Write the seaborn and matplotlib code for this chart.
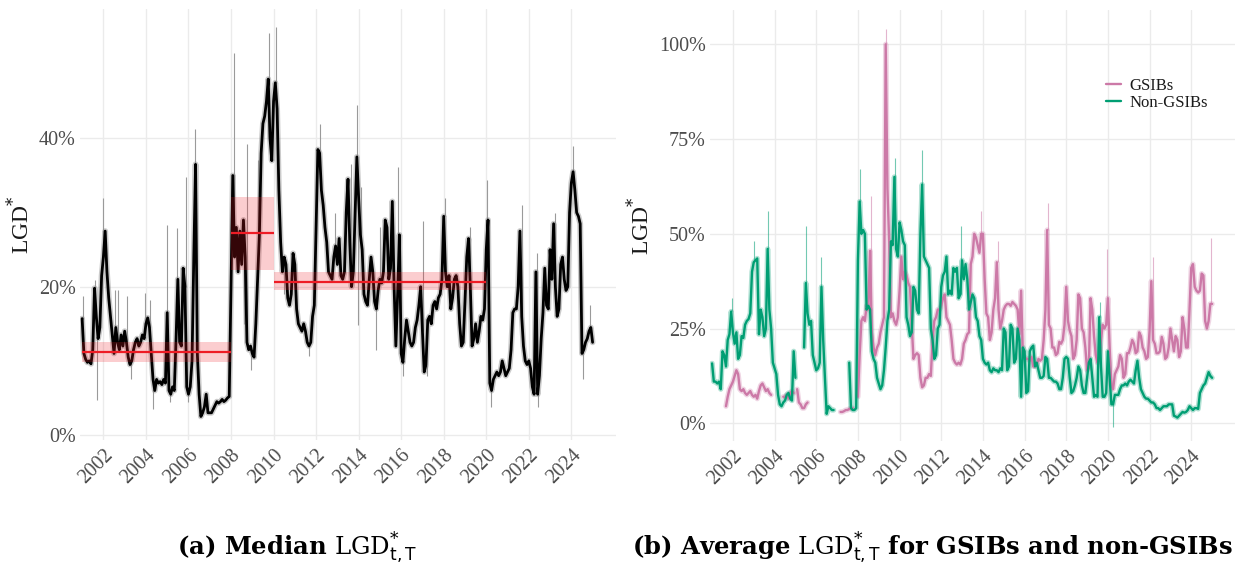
import numpy as np
import pandas as pd
import matplotlib
matplotlib.use("Agg")
import matplotlib.pyplot as plt
import seaborn as sns

# ---------------------------------------------------------------------------
# Monthly series, starting January 2001 (values in percent)
# ---------------------------------------------------------------------------
median_lgd = [
    15.7, 11.0, 10.2, 9.8, 10.0, 9.6, 11.5, 19.8, 16.0, 13.0, 14.5, 21.5,   # 2001
    24.0, 27.5, 22.0, 18.5, 16.0, 13.5, 11.0, 14.5, 12.5, 11.5, 13.5, 12.0,  # 2002
    14.0, 12.5, 10.5, 9.5, 10.0, 11.5, 12.5, 13.0, 12.0, 12.5, 13.5, 13.0,   # 2003
    15.0, 15.8, 14.5, 11.0, 7.5, 6.0, 7.5, 7.0, 7.2, 6.8, 7.5, 7.0,          # 2004
    16.5, 6.0, 5.5, 6.5, 6.0, 13.0, 21.0, 12.5, 12.0, 22.5, 20.0, 6.5,       # 2005
    5.5, 6.5, 10.0, 24.0, 36.5, 11.0, 5.5, 2.5, 3.0, 3.8, 5.5, 3.0,          # 2006
    3.0, 3.0, 3.5, 4.0, 4.5, 4.3, 4.5, 4.8, 4.5, 4.7, 5.0, 5.2,              # 2007
    20.0, 35.0, 24.0, 28.0, 22.0, 27.5, 23.0, 29.0, 24.0, 12.5, 11.5, 12.0,  # 2008
    11.0, 10.5, 15.0, 21.0, 27.0, 38.0, 42.0, 43.0, 45.0, 48.0, 40.0, 37.0,  # 2009
    45.0, 47.5, 44.0, 33.0, 26.0, 22.0, 24.0, 23.0, 18.5, 17.5, 19.0, 24.5,  # 2010
    23.0, 17.0, 15.0, 14.5, 14.0, 15.0, 14.0, 12.5, 12.0, 12.5, 16.0, 17.5,  # 2011
    28.0, 38.5, 38.0, 33.0, 31.0, 28.0, 26.0, 22.0, 21.5, 21.0, 24.0, 25.5,  # 2012
    23.0, 26.5, 21.5, 21.0, 22.0, 30.0, 34.5, 26.0, 20.0, 22.0, 30.0, 37.5,  # 2013
    32.0, 27.0, 25.0, 19.0, 18.0, 17.5, 21.0, 24.0, 22.0, 18.0, 17.0, 19.5,  # 2014
    21.0, 20.5, 22.0, 29.0, 28.0, 21.0, 22.5, 31.5, 20.0, 12.0, 19.0, 27.0,  # 2015
    11.0, 9.8, 13.0, 15.5, 14.0, 12.5, 12.0, 12.5, 14.5, 15.5, 17.5, 20.0,   # 2016
    14.0, 8.5, 9.5, 15.5, 16.0, 15.0, 17.5, 18.0, 17.0, 18.5, 19.0, 21.0,   # 2017
    29.5, 22.0, 20.0, 21.5, 17.0, 18.5, 21.0, 21.5, 20.0, 15.0, 12.0, 12.5,  # 2018
    18.0, 24.0, 26.5, 20.0, 12.0, 13.0, 15.0, 12.5, 14.0, 16.0, 15.5, 17.0,  # 2019
    25.0, 29.0, 7.0, 6.0, 7.5, 8.0, 8.5, 8.0, 8.5, 10.0, 9.0, 8.0,           # 2020
    8.5, 9.0, 11.5, 16.5, 17.0, 17.0, 20.0, 27.5, 16.0, 12.0, 10.0, 9.5,     # 2021
    10.0, 9.0, 6.5, 5.5, 22.0, 5.5, 8.0, 13.0, 16.5, 22.5, 17.5, 17.0,      # 2022
    25.0, 21.0, 28.5, 20.0, 16.0, 17.0, 23.0, 24.0, 21.0, 19.5, 20.0, 30.0,  # 2023
    34.0, 35.5, 33.0, 30.0, 29.5, 28.5, 11.0, 11.5, 12.5, 13.0, 14.0, 14.5,  # 2024
    12.5,                                                                    # 2025
]

nan = np.nan
gsib_lgd = [
    nan, nan, nan, nan, nan, nan, nan, nan, 4.5, 7.0, 9.0, 10.0,             # 2001
    11.0, 12.5, 14.0, 13.0, 9.0, 8.5, 9.0, 8.0, 7.5, 8.0, 8.5, 7.5,          # 2002
    7.0, 7.5, 6.5, 8.5, 10.0, 10.5, 9.5, 8.5, 9.0, 8.0, 7.5, nan,            # 2003
    nan, nan, nan, nan, nan, 7.0, 7.0, 7.5, 6.5, 8.0, 8.5, 8.0,              # 2004
    nan, 9.0, 5.5, 5.0, 4.0, 4.0, 5.0, 5.5, nan, nan, nan, nan,              # 2005
    nan, nan, nan, nan, nan, nan, nan, nan, nan, nan, nan, nan,              # 2006
    nan, nan, 3.0, 3.0, 3.2, 3.5, 3.5, 3.8, 4.0, 4.0, nan, nan,              # 2007
    7.0, 18.0, 27.0, 28.0, 27.0, 31.0, 30.0, 45.5, 24.0, 20.0, 18.0, 20.0,   # 2008
    21.0, 24.0, 26.0, 28.0, 100.0, 62.0, 48.0, 28.0, 29.0, 27.0, 26.0, 28.0, # 2009
    35.0, 44.0, 38.0, 40.0, 39.0, 37.0, 36.0, 26.0, 17.0, 18.0, 18.5, 18.0,  # 2010
    12.0, 9.5, 10.0, 12.0, 12.0, 13.0, 12.5, 22.0, 27.0, 28.0, 30.0, 30.0,   # 2011
    31.0, 33.0, 34.0, 28.0, 27.0, 26.0, 22.0, 17.0, 16.0, 15.5, 16.0, 15.5,  # 2012
    17.0, 21.0, 22.0, 23.5, 24.0, 42.0, 44.0, 50.0, 49.0, 47.0, 45.0, 50.0,  # 2013
    50.0, 38.0, 29.0, 28.0, 22.0, 24.0, 30.0, 33.0, 42.5, 30.0, 25.0, 27.0,  # 2014
    30.0, 31.0, 31.5, 31.5, 31.0, 32.0, 31.5, 31.0, 30.0, 23.5, 35.0, 18.0,  # 2015
    17.5, 17.0, 17.0, 16.5, 17.5, 15.0, 15.0, 15.5, 17.0, 16.5, 17.0, 22.0,  # 2016
    30.0, 51.0, 26.0, 25.0, 20.0, 20.0, 18.0, 18.5, 21.5, 21.0, 22.0, 26.0,  # 2017
    36.0, 27.0, 24.5, 23.0, 17.0, 18.0, 22.0, 34.0, 33.0, 25.0, 24.0, 20.0,  # 2018
    14.0, 14.5, 33.0, 30.0, 23.0, 18.0, 16.0, 16.5, 22.0, 26.0, 25.0, 26.0,  # 2019
    33.0, 20.0, 10.0, 9.0, 13.0, 14.0, 15.0, 18.0, 17.0, 12.0, 13.0, 18.5,   # 2020
    18.5, 20.0, 22.0, 21.0, 18.5, 19.0, 24.0, 23.0, 20.0, 19.0, 17.0, 17.5,  # 2021
    24.5, 37.5, 22.0, 21.0, 18.5, 18.5, 19.0, 22.8, 21.0, 17.0, 17.5, 20.0,  # 2022
    25.0, 22.0, 19.0, 23.0, 22.0, 17.5, 19.0, 28.0, 25.0, 20.0, 20.0, 30.0,  # 2023
    41.0, 42.0, 36.0, 35.0, 34.5, 35.0, 39.5, 39.0, 27.0, 25.0, 27.0, 31.5,  # 2024
    31.5,                                                                    # 2025
]

non_gsib_lgd = [
    15.8, 11.0, 11.0, 10.5, 11.0, 9.0, 19.0, 18.0, 15.0, 22.0, 23.5, 29.5,   # 2001
    24.0, 21.0, 24.0, 17.0, 18.0, 23.0, 22.5, 26.0, 27.0, 27.5, 29.0, 40.0,  # 2002
    42.5, 43.0, 43.5, 23.5, 30.0, 28.0, 23.0, 25.0, 46.0, 30.0, 25.0, 16.0,  # 2003
    14.5, 13.0, 7.5, 5.0, 4.5, 5.5, 6.0, 7.5, 8.0, 6.5, 6.0, 19.0,           # 2004
    12.0, nan, nan, nan, nan, 20.0, 37.0, 29.0, 26.0, 27.0, 18.0, 16.0,      # 2005
    14.0, 14.5, 16.0, 36.0, 22.0, 12.0, 2.5, 4.5, 4.0, 3.5, 3.5, nan,        # 2006
    nan, nan, nan, nan, nan, nan, nan, 16.0, 4.0, 3.5, 3.5, 4.0,             # 2007
    43.0, 58.5, 50.0, 51.0, 50.0, 30.0, 31.0, 30.0, 19.0, 17.0, 16.0, 12.0,  # 2008
    10.5, 9.0, 10.0, 14.0, 20.0, 27.0, 30.0, 48.0, 47.0, 65.0, 46.0, 44.0,   # 2009
    53.0, 51.0, 48.0, 47.0, 28.0, 26.0, 23.0, 24.0, 36.0, 35.0, 30.0, 29.0,  # 2010
    50.0, 63.0, 44.0, 43.0, 42.0, 41.0, 25.0, 22.0, 17.0, 18.0, 25.0, 26.0,  # 2011
    36.0, 39.0, 40.0, 44.0, 34.0, 35.0, 34.0, 41.0, 40.0, 41.0, 33.0, 34.0,  # 2012
    43.0, 38.0, 42.0, 38.0, 30.0, 32.0, 34.0, 33.0, 28.0, 27.0, 23.0, 22.0,  # 2013
    17.0, 16.0, 15.5, 16.0, 14.0, 13.5, 14.5, 14.0, 14.0, 13.5, 14.5, 14.0,  # 2014
    25.0, 24.0, 14.0, 15.0, 26.0, 25.0, 16.0, 17.0, 25.0, 22.0, 7.0, 20.0,   # 2015
    19.0, 8.0, 8.5, 19.0, 20.0, 20.5, 15.0, 16.0, 14.0, 12.0, 12.0, 12.5,    # 2016
    17.5, 17.0, 12.0, 12.0, 11.5, 11.0, 11.0, 10.5, 9.0, 9.0, 12.0, 17.0,    # 2017
    17.5, 17.0, 12.0, 8.0, 8.5, 10.0, 12.0, 15.0, 14.0, 10.0, 8.0, 8.0,      # 2018
    12.0, 16.0, 17.0, 12.0, 7.0, 7.5, 7.0, 28.0, 15.0, 7.0, 7.0, 8.0,        # 2019
    19.0, 12.0, 5.0, 5.0, 7.5, 7.5, 7.5, 9.0, 10.0, 10.0, 10.5, 10.0,        # 2020
    11.0, 11.5, 11.0, 10.5, 14.0, 16.5, 12.0, 9.0, 8.0, 7.0, 6.5, 6.5,       # 2021
    6.0, 5.5, 5.5, 5.0, 4.0, 4.0, 3.5, 4.0, 4.5, 4.5, 4.5, 5.0,              # 2022
    5.0, 5.0, 2.0, 1.8, 1.5, 2.0, 2.5, 3.0, 2.8, 3.0, 3.5, 4.5,              # 2023
    4.0, 3.5, 4.0, 4.0, 3.8, 8.0, 9.0, 10.0, 10.5, 12.0, 13.5, 12.5,         # 2024
    12.0,                                                                    # 2025
]

# Short-lived extremes of the underlying high-frequency series (year, value)
median_spike_year = [2001.03, 2001.61, 2001.72, 2002.0, 2002.55, 2002.7, 2003.1, 2003.3,
                     2003.96, 2004.19, 2004.35, 2005.0, 2005.15, 2005.47, 2005.87, 2006.0,
                     2006.33, 2008.13, 2008.6, 2008.73, 2008.95, 2009.28, 2009.78, 2010.11,
                     2010.5, 2011.65, 2012.17, 2012.88, 2013.63, 2013.9, 2013.97, 2014.13,
                     2014.83, 2014.99, 2015.85, 2016.1, 2017.02, 2017.2, 2018.04, 2019.22,
                     2020.04, 2020.2, 2021.66, 2022.4, 2022.45, 2023.25, 2024.1, 2024.55,
                     2024.9]
median_spike_value = [18.7, 20.9, 4.7, 31.9, 19.6, 19.6, 18.7, 7.5,
                      19.1, 18.2, 3.5, 28.3, 4.5, 27.9, 34.8, 4.5,
                      41.3, 51.5, 15.0, 39.3, 8.8, 37.1, 54.2, 55.0,
                      19.0, 10.6, 42.0, 29.9, 36.6, 44.5, 14.8, 33.5,
                      11.5, 28.1, 36.2, 8.0, 28.8, 8.0, 31.9, 28.1,
                      34.4, 3.8, 31.0, 24.5, 3.8, 30.0, 39.0, 7.5,
                      17.5]

gsib_spike_year = [2008.65, 2009.35, 2013.9, 2014.7, 2017.1, 2019.95, 2022.15, 2024.95]
gsib_spike_value = [60.0, 104.0, 56.0, 48.0, 58.0, 46.0, 44.0, 49.0]

non_gsib_spike_year = [2001.95, 2003.0, 2003.7, 2005.5, 2006.25, 2008.08, 2009.8,
                       2011.08, 2012.95, 2019.6, 2020.25]
non_gsib_spike_value = [33.0, 48.0, 56.0, 52.0, 44.0, 67.0, 70.0,
                        72.0, 52.0, 32.0, -1.0]

# Regime medians with their confidence bands
regime_start = [2001.0, 2008.0, 2010.0]
regime_end = [2008.0, 2010.0, 2020.0]
regime_median = [11.2, 27.3, 20.7]
regime_low = [9.9, 22.3, 19.5]
regime_high = [12.6, 32.1, 22.0]

group_labels = ["GSIBs", "Non-GSIBs"]
year_ticks = list(range(2002, 2025, 2))
left_yticks = [0, 20, 40]
right_yticks = [0, 25, 50, 75, 100]

# ---------------------------------------------------------------------------
sns.set_theme(style="white")
plt.rcParams["font.family"] = ["Liberation Serif", "DejaVu Serif"]
plt.rcParams["mathtext.fontset"] = "custom"
plt.rcParams["mathtext.rm"] = "DejaVu Serif"
plt.rcParams["mathtext.it"] = "DejaVu Serif:italic"
plt.rcParams["mathtext.bf"] = "DejaVu Serif:bold"
plt.rcParams["mathtext.sf"] = "DejaVu Sans"

PINK = "#CC79A7"
GREEN = "#009E73"
GRID = "#EBEBEB"
TICK = "#4D4D4D"

months = 2001 + np.arange(len(median_lgd)) / 12.0


def segments(values):
    """Split a series at missing values so gaps are not bridged."""
    v = np.asarray(values, dtype=float)
    ok = ~np.isnan(v)
    seg = np.cumsum(np.r_[True, ok[1:] != ok[:-1]])
    return v, ok, seg


def nearest(values, yr):
    idx = int(round((yr - 2001) * 12))
    idx = min(max(idx, 0), len(values) - 1)
    return values[idx]


def style_axis(ax, yticks, ylim, label_x):
    ax.set_xlim(2000.9, 2026.1)
    ax.set_ylim(*ylim)
    ax.set_xticks(year_ticks)
    ax.set_xticklabels([str(y) for y in year_ticks], rotation=45,
                       ha="right", va="top", rotation_mode="anchor")
    ax.set_yticks(yticks)
    ax.set_yticklabels([f"{t}%" for t in yticks])
    ax.tick_params(axis="both", length=0, labelsize=14.5, labelcolor=TICK)
    ax.tick_params(axis="y", pad=3)
    ax.tick_params(axis="x", pad=4)
    ax.grid(True, color=GRID, linewidth=1.0)
    ax.set_axisbelow(True)
    for s in ax.spines.values():
        s.set_visible(False)
    ax.set_xlabel("")
    ax.set_ylabel(r"LGD$^{*}$", fontsize=17, color="#1A1A1A",
                  family="Liberation Serif")
    ax.yaxis.set_label_coords(label_x, 0.5)


fig = plt.figure(figsize=(12.35, 5.67), dpi=100)
ax1 = fig.add_axes([80 / 1235, 127 / 567, 536 / 1235, 431 / 567])
ax2 = fig.add_axes([710 / 1235, 126 / 567, 525 / 1235, 431 / 567])

# ---------------- Panel (a): median LGD* ----------------
med = np.asarray(median_lgd, dtype=float)
for yr, ext in zip(median_spike_year, median_spike_value):
    base = nearest(med, yr)
    ax1.vlines(yr, min(base, ext), max(base, ext), color="#9A9A9A",
               linewidth=0.8, zorder=1)

df_med = pd.DataFrame({"year": months, "value": med})
# soft halo of the weekly noise around the median path
sns.lineplot(data=df_med, x="year", y="value", ax=ax1, color="#8C8C8C",
             linewidth=4.2, alpha=0.45, estimator=None, zorder=1.5)
sns.lineplot(data=df_med, x="year", y="value", ax=ax1, color="black",
             linewidth=2.0, estimator=None, zorder=2)

for s, e, m, lo, hi in zip(regime_start, regime_end, regime_median,
                           regime_low, regime_high):
    ax1.fill_between([s, e], [lo, lo], [hi, hi], color="#EE1C25",
                     alpha=0.22, linewidth=0, zorder=3)
    ax1.hlines(m, s, e, color="#EE1C25", linewidth=1.6, zorder=4)

style_axis(ax1, left_yticks, (-0.67, 57.45), -0.086)

# ---------------- Panel (b): GSIBs vs non-GSIBs ----------------
frames = []
for name, series in zip(group_labels, [gsib_lgd, non_gsib_lgd]):
    v, ok, seg = segments(series)
    frames.append(pd.DataFrame({"year": months[ok], "value": v[ok],
                                "group": name, "piece": seg[ok]}))
df_grp = pd.concat(frames, ignore_index=True)
palette = {"GSIBs": PINK, "Non-GSIBs": GREEN}

for series, sy, sv, col in [(gsib_lgd, gsib_spike_year, gsib_spike_value, PINK),
                            (non_gsib_lgd, non_gsib_spike_year, non_gsib_spike_value, GREEN)]:
    arr = np.asarray(series, dtype=float)
    for yr, ext in zip(sy, sv):
        base = nearest(arr, yr)
        if np.isnan(base):
            continue
        ax2.vlines(yr, min(base, ext), max(base, ext), color=col,
                   linewidth=0.8, alpha=0.55, zorder=1)

sns.lineplot(data=df_grp, x="year", y="value", hue="group", units="piece",
             estimator=None, palette=palette, hue_order=group_labels,
             linewidth=3.8, alpha=0.3, ax=ax2, zorder=1.5, legend=False)
sns.lineplot(data=df_grp, x="year", y="value", hue="group", units="piece",
             estimator=None, palette=palette, hue_order=group_labels,
             linewidth=1.7, ax=ax2, zorder=2)

style_axis(ax2, right_yticks, (-4.67, 109.05), -0.107)

handles, labels = ax2.get_legend_handles_labels()
ax2.legend(handles, labels, loc="upper left", bbox_to_anchor=(0.754, 0.842),
           frameon=False, fontsize=12, handlelength=0.9, handletextpad=0.5,
           labelspacing=0.05, borderpad=0, borderaxespad=0, labelcolor="#1A1A1A")

# ---------------- Captions ----------------
cap = dict(ha="center", va="center", fontsize=17.5, fontweight="bold",
           color="black", family="DejaVu Serif")
fig.text(297 / 1235, 1 - 548 / 567,
         r"(a) Median $\mathrm{LGD}^{*}_{\mathsf{t,T}}$", **cap)
fig.text(932 / 1235, 1 - 548 / 567,
         r"(b) Average $\mathrm{LGD}^{*}_{\mathsf{t,T}}$ for GSIBs and non-GSIBs", **cap)

fig.savefig("out.png", dpi=100)
